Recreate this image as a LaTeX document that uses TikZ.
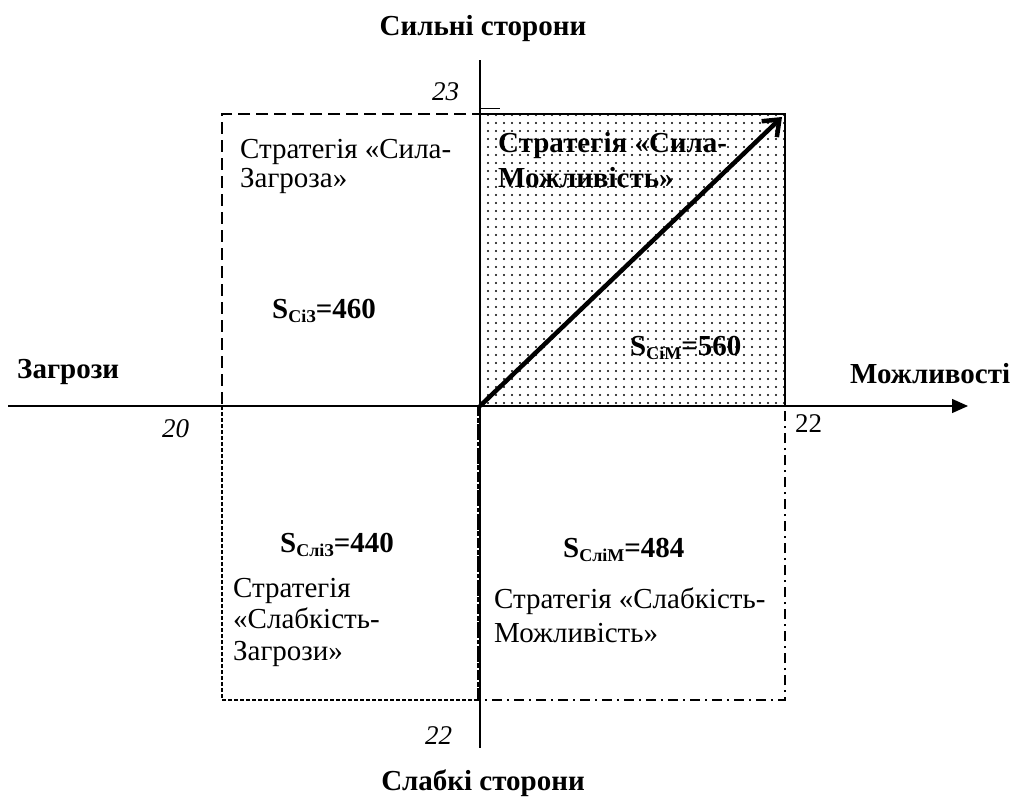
\documentclass[tikz,border=0pt]{standalone}
\usepackage{fontspec}
\setmainfont{Liberation Serif}
\usetikzlibrary{arrows.meta,patterns.meta,calc}

\newcommand{\sidx}[1]{\raisebox{-4pt}{\fontsize{18}{18}\selectfont #1}}

\begin{document}
\begin{tikzpicture}[x=1pt, y=-1pt,
  txt/.style={inner sep=0pt, anchor=base west, align=left, font=\fontsize{29}{#1}\selectfont},
  txt/.default=32,
  strong/.style={inner sep=0pt, anchor=base west, font=\fontsize{29}{32}\selectfont\bfseries},
  side/.style={inner sep=0pt, anchor=base, font=\fontsize{29}{32}\selectfont\bfseries},
  num/.style={inner sep=0pt, anchor=base west, font=\fontsize{27}{30}\selectfont\itshape},
  axis/.style={-{Triangle[length=16pt,width=14pt]}, line width=1.4pt},
  zone/.style={line width=1.2pt}
]
\useasboundingbox (0,0) rectangle (1017,803);

% quadrant corners
\coordinate (O) at (480,406);
\coordinate (tl) at (222,114);
\coordinate (tr) at (785,114);
\coordinate (br) at (785,700);
\coordinate (bl) at (222,700);

% quadrants
\fill[pattern={Dots[distance=8pt,radius=1.1pt]}] (O) rectangle (tr);
\draw[zone] (O) rectangle (tr);
\draw[zone, dash pattern=on 12pt off 6pt] (O) rectangle (tl);
\draw[zone, dash pattern=on 4pt off 2pt] (478,406) rectangle (bl);
\draw[zone, dash pattern=on 10pt off 5pt on 2pt off 5pt] (478,406) rectangle (br);

% axes
\coordinate (xl) at (8,406);
\coordinate (xr) at (968,406);
\coordinate (yt) at (480,60);
\coordinate (yb) at (480,748);
\coordinate (tk) at (500,108);
\draw[axis] (xl) -- (xr);
\draw[line width=1.4pt] (yt) -- (yb);
\draw[line width=1pt] (480,108) -- (tk);

% strategy vector
\draw[-{Straight Barb[length=14pt,width=22pt]}, line width=4.5pt] (O) -- ($(tr)+(-3,3)$);

% axis titles
\node[side] (strong) at (483,35) {Сильні сторони};
\node[side] (weak) at (483,790) {Слабкі сторони};
\node[side, anchor=base west] (threat) at (17,378) {Загрози};
\node[side, anchor=base west] (chance) at (850,383) {Можливості};

% scale values
\node[num] (n23) at (432,100) {23};
\node[num] (n20) at (162,437) {20};
\node[num, font=\fontsize{27}{30}\selectfont] (n22r) at (795,432) {22};
\node[num] (n22b) at (425,744) {22};

% quadrant labels (base = last line)
\node[txt=29] (sz) at (240,187) {Стратегія «Сила-\\Загроза»};
\node[txt=35, font=\fontsize{29}{35}\selectfont\bfseries] (sm) at (498,187) {Стратегія «Сила-\\Можливість»};
\node[txt=31.5] (wz) at (233,660) {Стратегія\\«Слабкість-\\Загрози»};
\node[txt=34] (wm) at (494,642) {Стратегія «Слабкість-\\Можливість»};

% areas
\node[strong] (a460) at (272,318) {S\sidx{СіЗ}=460};
\node[strong] (a560) at (630,355) {S\sidx{СіМ}=560};
\node[strong] (a440) at (280,552) {S\sidx{СліЗ}=440};
\node[strong] (a484) at (563,557) {S\sidx{СліМ}=484};
\end{tikzpicture}
\end{document}
